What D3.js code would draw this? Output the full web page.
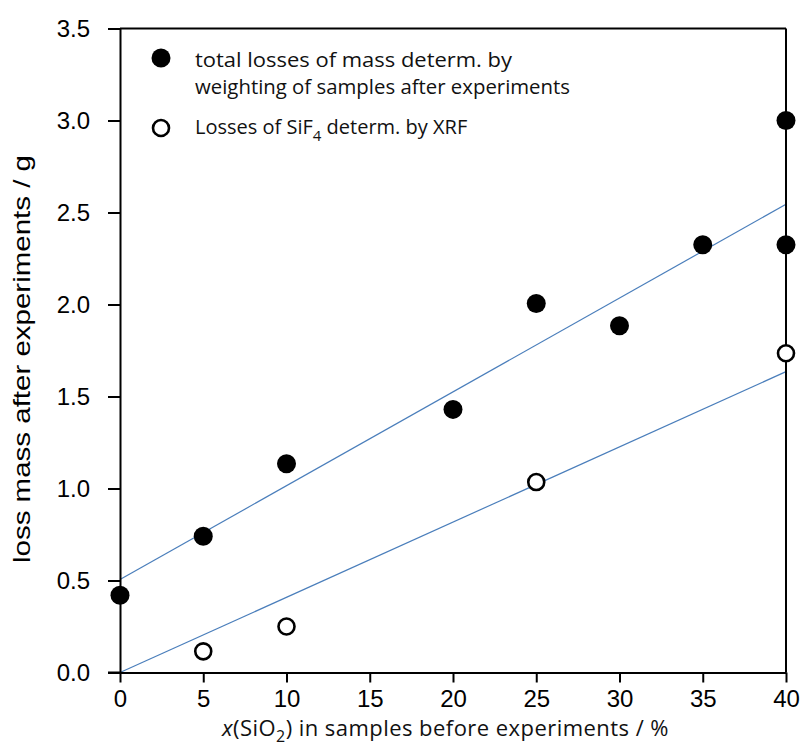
<!DOCTYPE html>
<html><head><meta charset="utf-8">
<script src="https://cdn.jsdelivr.net/npm/d3@7"></script>
<style>body{margin:0;background:#fff}svg{display:block}</style>
</head><body>
<svg id="chart" width="802" height="745"></svg>
<script>
// Data
const totalX = [0, 5, 10, 20, 25, 30, 35, 40, 40];
const totalY = [0.42, 0.74, 1.135, 1.43, 2.005, 1.885, 2.325, 2.325, 3.0];
const sif4X = [5, 10, 25, 40];
const sif4Y = [0.115, 0.25, 1.035, 1.735];
const fitTotalX = [0, 40];
const fitTotalY = [0.505, 2.545];
const fitSif4X = [0, 40];
const fitSif4Y = [0.0, 1.635];
const xTicks = [0, 5, 10, 15, 20, 25, 30, 35, 40];
const yTicks = [0.0, 0.5, 1.0, 1.5, 2.0, 2.5, 3.0, 3.5];

const svg = d3.select("#chart");
const L = 120, R = 786, T = 28.5, B = 672.5;
const x = d3.scaleLinear().domain([0, 40]).range([L, R]);
const y = d3.scaleLinear().domain([0, 3.5]).range([B, T]);
const SANS = "Liberation Sans, Arial, sans-serif";
const CAL = "'Open Sans', Lato, sans-serif";

// fit lines
const line = d3.line().x(d => x(d[0])).y(d => y(d[1]));
svg.append("path").attr("d", line(d3.zip(fitTotalX, fitTotalY)))
  .attr("fill", "none").attr("stroke", "#4a7ebb").attr("stroke-width", 1.2);
svg.append("path").attr("d", line(d3.zip(fitSif4X, fitSif4Y)))
  .attr("fill", "none").attr("stroke", "#4a7ebb").attr("stroke-width", 1.2);

// frame (top and right)
svg.append("line").attr("x1", L).attr("x2", R).attr("y1", T).attr("y2", T)
  .attr("stroke", "#000").attr("stroke-width", 2);
svg.append("line").attr("x1", R).attr("x2", R).attr("y1", T).attr("y2", B)
  .attr("stroke", "#000").attr("stroke-width", 2);

// axes
const xAxis = svg.append("g").attr("transform", `translate(0,${B})`)
  .call(d3.axisBottom(x).tickValues(xTicks).tickFormat(d3.format("d")).tickSizeInner(10).tickSizeOuter(0).tickPadding(7));
const yAxis = svg.append("g").attr("transform", `translate(${L},0)`)
  .call(d3.axisLeft(y).tickValues(yTicks).tickFormat(d3.format(".1f")).tickSizeInner(12).tickSizeOuter(0).tickPadding(18));
[xAxis, yAxis].forEach(g => {
  g.select(".domain").attr("stroke", "#000").attr("stroke-width", 2);
  g.selectAll(".tick line").attr("stroke", "#000").attr("stroke-width", 2);
  g.selectAll(".tick text").attr("fill", "#000")
    .style("font-family", SANS).style("font-size", "24px");
});
svg.append("line").attr("x1", L - 12).attr("x2", L).attr("y1", B).attr("y2", B)
  .attr("stroke", "#000").attr("stroke-width", 2);

// points
svg.append("g").selectAll("circle").data(d3.zip(totalX, totalY)).join("circle")
  .attr("cx", d => x(d[0])).attr("cy", d => y(d[1])).attr("r", 9.5).attr("fill", "#000");
svg.append("g").selectAll("circle").data(d3.zip(sif4X, sif4Y)).join("circle")
  .attr("cx", d => x(d[0])).attr("cy", d => y(d[1])).attr("r", 8).attr("fill", "#fff")
  .attr("stroke", "#000").attr("stroke-width", 2.6);

// legend
const lg = svg.append("g").style("font-family", CAL).style("font-size", "20px").attr("fill", "#111");
lg.append("circle").attr("cx", 161).attr("cy", 58).attr("r", 9.5).attr("fill", "#000");
lg.append("text").attr("x", 195).attr("y", 67).attr("textLength", 317).attr("lengthAdjust", "spacingAndGlyphs")
  .text("total losses of mass determ. by");
lg.append("text").attr("x", 195).attr("y", 94).attr("textLength", 375).attr("lengthAdjust", "spacingAndGlyphs")
  .text("weighting of samples after experiments");
lg.append("circle").attr("cx", 161).attr("cy", 128).attr("r", 8).attr("fill", "#fff")
  .attr("stroke", "#000").attr("stroke-width", 2.6);
const t2 = lg.append("text").attr("x", 195).attr("y", 134);
t2.append("tspan").text("Losses of SiF");
t2.append("tspan").attr("dy", 7).style("font-size", "15px").text("4");
t2.append("tspan").attr("dy", -7).text(" determ. by XRF");

// axis titles
svg.append("text").attr("transform", "translate(30,359) rotate(-90)")
  .attr("text-anchor", "middle").style("font-family", SANS)
  .style("font-size", "24px").attr("textLength", 408).attr("lengthAdjust", "spacingAndGlyphs")
  .attr("fill", "#000").text("loss mass after experiments / g");
const xt = svg.append("text").attr("x", 222).attr("y", 735.5)
  .style("font-family", CAL).style("font-size", "22px").style("letter-spacing", "0.45px").attr("fill", "#111");
xt.append("tspan").style("font-style", "italic").text("x");
xt.append("tspan").text("(SiO");
xt.append("tspan").attr("dy", 6).style("font-size", "16px").text("2");
xt.append("tspan").attr("dy", -6).text(") in samples before experiments / %");
</script>
</body></html>
